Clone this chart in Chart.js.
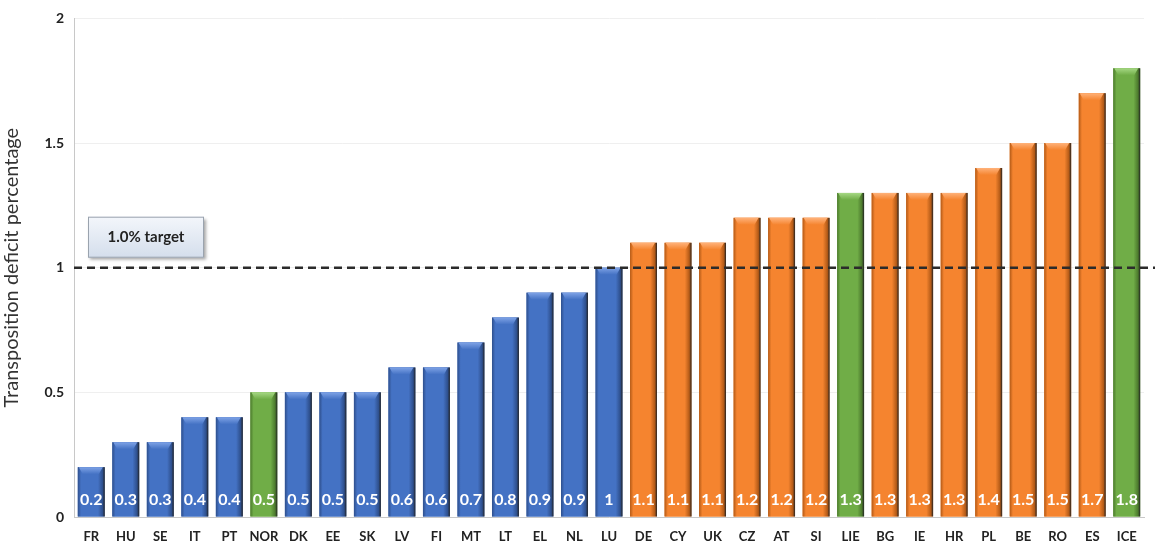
<!DOCTYPE html>
<html><head><meta charset="utf-8">
<script src="https://cdn.jsdelivr.net/npm/chart.js@4"></script>
<style>html,body{margin:0;padding:0;background:#fff}#wrap{width:1155px;height:549px;position:relative}</style>
</head><body><div id="wrap"><canvas id="c" width="1155" height="549"></canvas></div>
<script>
const categories = ["FR","HU","SE","IT","PT","NOR","DK","EE","SK","LV","FI","MT","LT","EL","NL","LU","DE","CY","UK","CZ","AT","SI","LIE","BG","IE","HR","PL","BE","RO","ES","ICE"];
const values = [0.2,0.3,0.3,0.4,0.4,0.5,0.5,0.5,0.5,0.6,0.6,0.7,0.8,0.9,0.9,1,1.1,1.1,1.1,1.2,1.2,1.2,1.3,1.3,1.3,1.3,1.4,1.5,1.5,1.7,1.8];
const groups = ["EU","EU","EU","EU","EU","EEA","EU","EU","EU","EU","EU","EU","EU","EU","EU","EU","OVER","OVER","OVER","OVER","OVER","OVER","EEA","OVER","OVER","OVER","OVER","OVER","OVER","OVER","EEA"];
const yTicks = [0,0.5,1,1.5,2];
const targetValue = 1;
const targetLabel = "1.0% target";
const yTitle = "Transposition deficit percentage";

const groupColor = {EU:"#4472C4", OVER:"#F5842F", EEA:"#70AD47"};
const groupDark = {EU:"#2E4F8C", OVER:"#B35A17", EEA:"#4C7A2D"};
const groupLight = {EU:"#7FA3E6", OVER:"#FFB27A", EEA:"#A6D884"};

const shading = {
  id:"shading",
  afterDatasetsDraw(chart){
    const ctx = chart.ctx;
    chart.getDatasetMeta(0).data.forEach((el,i)=>{
      const g = groups[i];
      const w = el.width, l = el.x - w/2, top = el.y, base = el.base;
      const h = base - top;
      ctx.save();
      const grad = ctx.createLinearGradient(l,0,l+w,0);
      grad.addColorStop(0, groupDark[g]);
      grad.addColorStop(0.12, groupColor[g]);
      grad.addColorStop(0.75, groupColor[g]);
      grad.addColorStop(0.92, groupDark[g]);
      grad.addColorStop(1, "#222");
      ctx.fillStyle = grad;
      ctx.fillRect(l, top, w, h);
      const capH = Math.min(7, h);
      const cg = ctx.createLinearGradient(0, top, 0, top+capH);
      cg.addColorStop(0, groupLight[g]);
      cg.addColorStop(1, groupColor[g]);
      ctx.fillStyle = cg;
      ctx.beginPath();
      ctx.moveTo(l+1, top);
      ctx.lineTo(l+w-2, top);
      ctx.lineTo(l+w-6, top+capH);
      ctx.lineTo(l+5, top+capH);
      ctx.closePath();
      ctx.fill();
      ctx.fillStyle = "#ffffff";
      ctx.font = "bold 16px Lato, 'Liberation Sans', sans-serif";
      ctx.textAlign = "center";
      ctx.textBaseline = "middle";
      ctx.fillText(String(values[i]), el.x, base - 17);
      ctx.restore();
    });
  }
};

const targetLine = {
  id:"targetLine",
  afterDatasetsDraw(chart){
    const ctx = chart.ctx, y = chart.scales.y.getPixelForValue(targetValue);
    const left = chart.chartArea.left;
    ctx.save();
    ctx.strokeStyle = "#2b2b2b";
    ctx.lineWidth = 2.5;
    ctx.setLineDash([8,5]);
    ctx.beginPath();
    ctx.moveTo(left, y);
    ctx.lineTo(chart.width, y);
    ctx.stroke();
    ctx.setLineDash([]);
    const bx = left + 14, by = y - 51, bw = 116, bh = 41;
    ctx.shadowColor = "rgba(0,0,0,0.35)";
    ctx.shadowBlur = 3; ctx.shadowOffsetX = 2; ctx.shadowOffsetY = 2;
    const bg = ctx.createLinearGradient(0, by, 0, by+bh);
    bg.addColorStop(0, "#f3f6fb");
    bg.addColorStop(1, "#d4deec");
    ctx.fillStyle = bg;
    ctx.fillRect(bx, by, bw, bh);
    ctx.shadowColor = "transparent";
    ctx.strokeStyle = "#9aa3ae";
    ctx.lineWidth = 1;
    ctx.strokeRect(bx+0.5, by+0.5, bw-1, bh-1);
    ctx.fillStyle = "#222";
    ctx.font = "bold 15px Lato, 'Liberation Sans', sans-serif";
    ctx.textAlign = "center"; ctx.textBaseline = "middle";
    ctx.fillText(targetLabel, bx + bw/2, by + bh/2);
    ctx.restore();
  }
};

new Chart(document.getElementById("c"), {
  type:"bar",
  data:{ labels: categories, datasets:[{ data: values, backgroundColor: groups.map(g=>groupColor[g]), barPercentage:0.78, categoryPercentage:1 }]},
  options:{
    responsive:false, animation:false,
    layout:{ padding:{ top:16, right:11, bottom:0, left:0 } },
    plugins:{ legend:{display:false}, tooltip:{enabled:false} },
    scales:{
      x:{
        grid:{ display:false, drawTicks:false },
        border:{ display:true, color:"#c8c8c8", width:1 },
        ticks:{ color:"#222", font:{ family:"Lato, 'Liberation Sans', sans-serif", size:13, weight:"bold" }, padding:12, maxRotation:0, autoSkip:false },
        afterFit(s){ s.height = 32; }
      },
      y:{
        min:0, max:2,
        afterBuildTicks(s){ s.ticks = yTicks.map(v=>({value:v})); },
        grid:{ color:"#efefef", drawTicks:false },
        border:{ display:true, color:"#c8c8c8", width:1 },
        ticks:{ color:"#222", font:{ family:"Lato, 'Liberation Sans', sans-serif", size:14, weight:"bold" }, padding:10, callback:(v)=>String(v) },
        title:{ display:true, text:yTitle, color:"#333", font:{ family:"Lato, 'Liberation Sans', sans-serif", size:20 }, padding:{top:0,bottom:2} },
        afterFit(s){ s.width = 74; }
      }
    }
  },
  plugins:[shading, targetLine]
});
</script></body></html>
